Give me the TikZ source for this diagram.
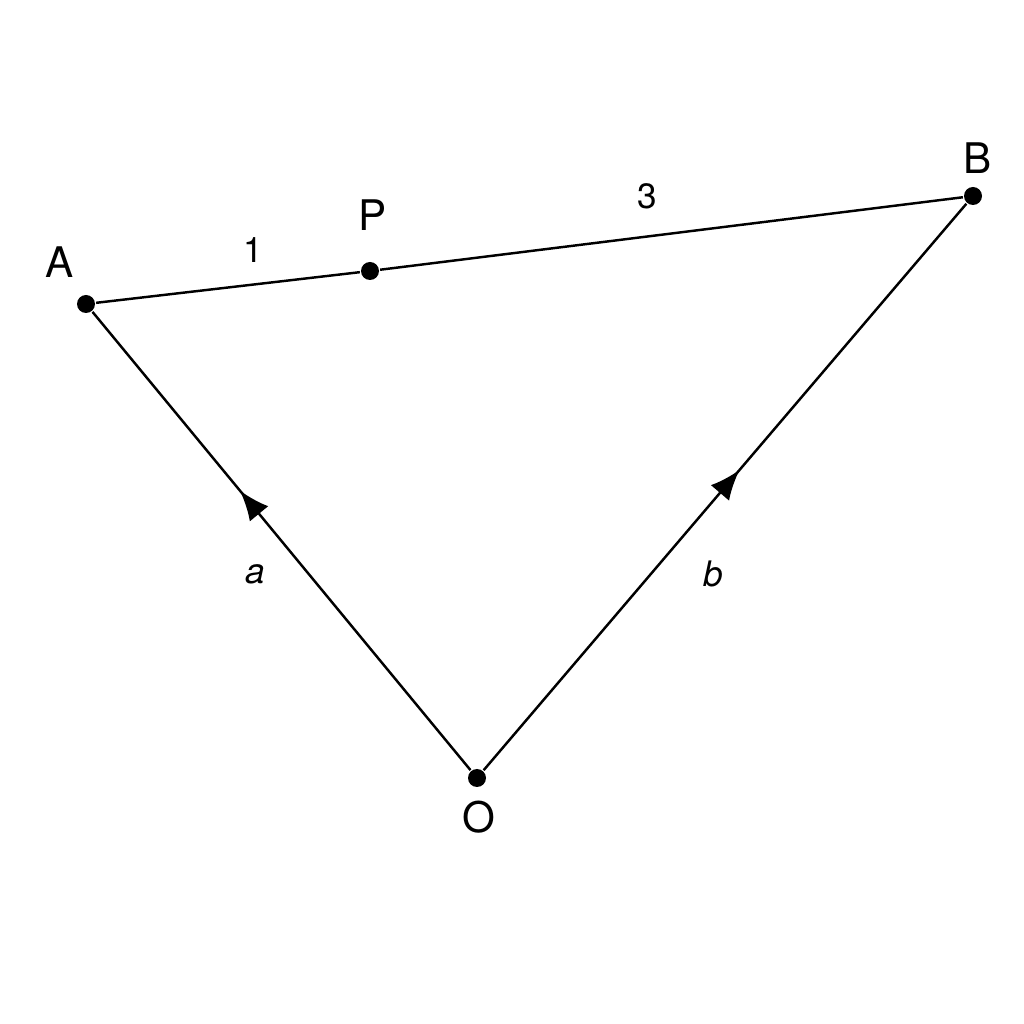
\documentclass[tikz,border=0pt]{standalone}
\usepackage{fontspec}
\setmainfont{TeX Gyre Heros}
\usepackage{tikz}
\usetikzlibrary{positioning,arrows.meta,decorations.markings}

\begin{document}
\begin{tikzpicture}[>=Stealth, line width=0.7pt,
  pt/.style={circle, fill=black, inner sep=0pt, minimum size=0.18cm},
  midarrow/.style={postaction={decorate, decoration={markings,
    mark=at position #1 with {\arrow{Latex[length=0.3cm, width=0.24cm]}}}}}]
\useasboundingbox (0,0) rectangle (10.24,10.24);

% points
\node[pt] (A) at (0.86,7.20) {};
\node[pt] (P) at (3.70,7.53) {};
\node[pt] (B) at (9.73,8.28) {};
\node[pt] (O) at (4.77,2.46) {};

% point names
\node[font=\large] (lA) at (0.60,7.62) {A};
\node[font=\large] (lP) at (3.73,8.09) {P};
\node[font=\large] (lB) at (9.78,8.66) {B};
\node[font=\large] (lO) at (4.79,2.07) {O};

% ratio and vector labels
\node (r1) at (2.53,7.74) {1};
\node (r3) at (6.47,8.28) {3};
\node[font=\itshape] (va) at (2.55,4.50) {a};
\node[font=\itshape] (vb) at (7.13,4.50) {b};

% sides
\draw (A) -- (P) -- (B);
\draw[midarrow=0.61] (O) -- (A);
\draw[midarrow=0.53] (O) -- (B);
\end{tikzpicture}
\end{document}
